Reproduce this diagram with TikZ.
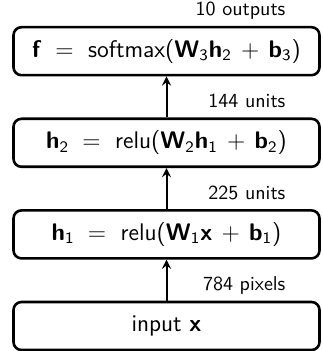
\documentclass[tikz,border=0pt]{standalone}
\usepackage{amsmath}
\usepackage{tikz}
\usetikzlibrary{positioning, graphs}
\DeclareMathAlphabet{\mathsfbf}{OT1}{cmss}{bx}{n}
\newcommand{\vsf}[1]{\mathsfbf{#1}}
\newcommand{\nsf}[1]{\mathsf{#1}}

\begin{document}
\begin{tikzpicture}[node distance=20.5pt, >=stealth, font=\sffamily,
    layer/.style={draw, rounded corners=4pt, line width=1.3pt,
        minimum width=153pt, minimum height=24pt, font=\sffamily\large},
    sizelbl/.style={inner sep=0pt, font=\sffamily},
    every edge/.append style={line width=1pt}]
            \useasboundingbox (-83.25pt,-12.5pt) rectangle (77.75pt,163pt);

            \node[layer]                        (input)    {input $\vsf{x}$};
            \node[layer, above=of input]        (hidden 1) {$\vsf{h}_{\nsf{1}} \;=\;$ relu($\vsf{W}_{\nsf{1}}\vsf{x} \,+\, \vsf{b}_{\nsf{1}}$)};
            \node[layer, above=of hidden 1]     (hidden 2) {$\vsf{h}_{\nsf{2}} \;=\;$ relu($\vsf{W}_{\nsf{2}}\vsf{h}_{\nsf{1}} \,+\, \vsf{b}_{\nsf{2}}$)};
            \node[layer, above=of hidden 2]     (output)   {$\vsf{f} \;=\;$ softmax($\vsf{W}_{\nsf{3}}\vsf{h}_{\nsf{2}} \,+\, \vsf{b}_{\nsf{3}}$)};

            \node[sizelbl, above left=5pt and 17.5pt of input.north east, anchor=base east]    (size 0) {784 pixels};
            \node[sizelbl, above left=5pt and 17.5pt of hidden 1.north east, anchor=base east] (size 1) {225 units};
            \node[sizelbl, above left=5pt and 17.5pt of hidden 2.north east, anchor=base east] (size 2) {144 units};
            \node[sizelbl, above left=5pt and 17.5pt of output.north east, anchor=base east]   (size 3) {10 outputs};

            \graph{
                (input) -> (hidden 1) -> (hidden 2) -> (output);
            };
        \end{tikzpicture}
\end{document}
